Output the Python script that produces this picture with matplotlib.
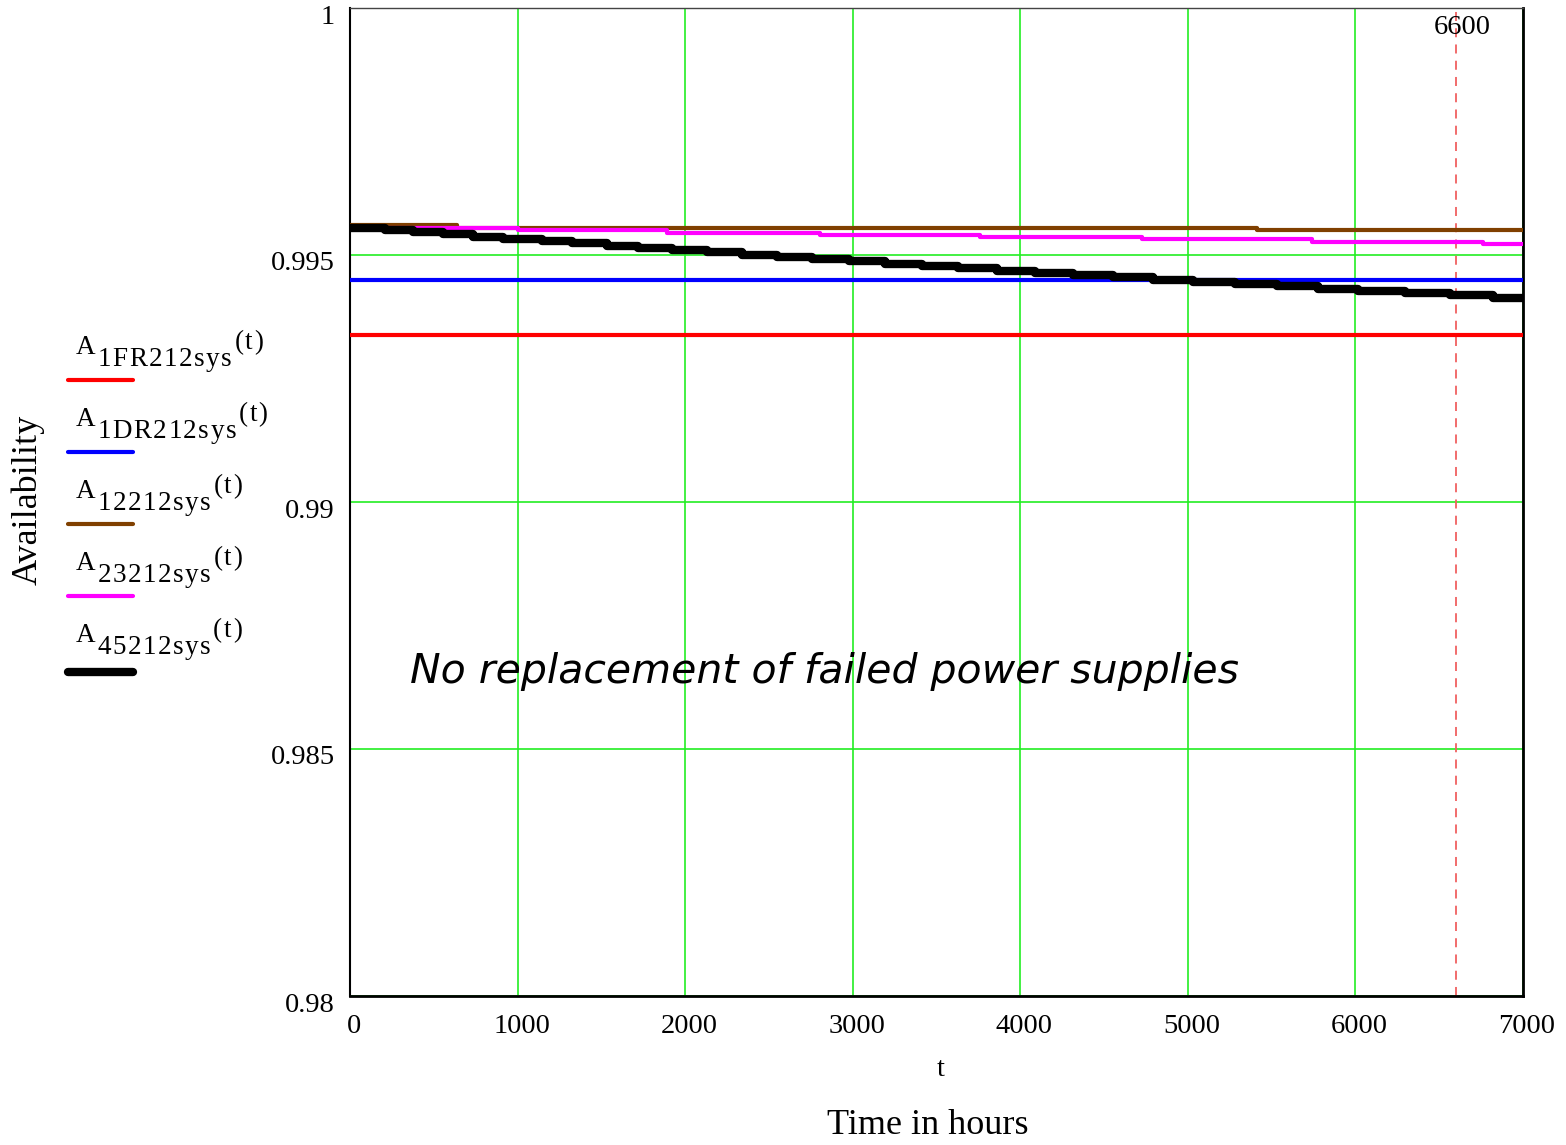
import matplotlib
matplotlib.use("Agg")
import matplotlib.pyplot as plt
from matplotlib.lines import Line2D
import matplotlib.transforms as mtransforms

W, H = 1566, 1145
SERIF = "Liberation Serif"

# ---- data ----
t_end = 7000
A_1FR = 0.99339
A_1DR = 0.99449
t_12212 = [0, 637, 5411]
A_12212 = [0.995609, 0.995538, 0.995496]
t_23212 = [0, 1000, 1890, 2805, 3760, 4725, 5739, 6763]
A_23212 = [0.995548, 0.995501, 0.995455, 0.995408, 0.995361, 0.995315, 0.995268, 0.995221]
t_45212 = [0, 209, 378, 557, 736, 915, 1144, 1323, 1532, 1721,
           1920, 2129, 2338, 2547, 2756, 2975, 3194, 3412,
           3631, 3860, 4088, 4317, 4556, 4794, 5033, 5282,
           5530, 5779, 6018, 6297, 6566, 6823]
A_45212 = [0.995556, 0.995510, 0.995464, 0.995419, 0.995373, 0.995327, 0.995281, 0.995235,
           0.995190, 0.995144, 0.995098, 0.995052, 0.995006, 0.994961, 0.994915, 0.994869,
           0.994823, 0.994777, 0.994732, 0.994686, 0.994640, 0.994594, 0.994548, 0.994503,
           0.994457, 0.994411, 0.994365, 0.994319, 0.994274, 0.994228, 0.994182, 0.994136]
marker_t = 6600
x_ticks = [0, 1000, 2000, 3000, 4000, 5000, 6000, 7000]
y_ticks = [0.98, 0.985, 0.99, 0.995, 1.0]
y_tick_labels = ["0.98", "0.985", "0.99", "0.995", "1"]
legend_subs = ["1FR212sys", "1DR212sys", "12212sys", "23212sys", "45212sys"]
colors = ["#ff0000", "#0000ff", "#804000", "#ff00ff", "#000000"]

fig = plt.figure(figsize=(W / 100, H / 100), dpi=100)
ax = fig.add_axes([350 / W, 1 - 996 / H, (1523 - 350) / W, (996 - 8) / H])

def ext(t, v):
    return list(t) + [t_end], list(v) + [v[-1]]

lw = 3.0
ax.plot([0, t_end], [A_1FR, A_1FR], color=colors[0], lw=lw, zorder=3)
ax.plot([0, t_end], [A_1DR, A_1DR], color=colors[1], lw=lw, zorder=3)
x, y = ext(t_12212, A_12212)
ax.plot(x, y, drawstyle="steps-post", color=colors[2], lw=lw, zorder=3)
x, y = ext(t_23212, A_23212)
ax.plot(x, y, drawstyle="steps-post", color=colors[3], lw=lw, zorder=3)
x, y = ext(t_45212, A_45212)
ax.plot(x, y, drawstyle="steps-post", color=colors[4], lw=6, zorder=4)

ax.axvline(marker_t, color="#f06060", lw=1.3, ls=(0, (5, 4)), zorder=2)

ax.set_xlim(0, t_end)
ax.set_ylim(0.98, 1.0)
ax.set_xticks(x_ticks)
ax.set_yticks(y_ticks)
ax.set_yticklabels(y_tick_labels)
ax.grid(True, color="#22ee22", lw=1.2, zorder=1)
ax.tick_params(length=0, labelsize=20.5)
ax.tick_params(axis="x", pad=13)
ax.tick_params(axis="y", pad=11)
dx = mtransforms.ScaledTranslation(4 / 100, 0, fig.dpi_scale_trans)
dy = mtransforms.ScaledTranslation(0, -6 / 100, fig.dpi_scale_trans)
for lab in ax.get_xticklabels():
    lab.set_fontfamily(SERIF)
    lab.set_transform(lab.get_transform() + dx)
for lab in ax.get_yticklabels():
    lab.set_fontfamily(SERIF)
    lab.set_transform(lab.get_transform() + dy)
for s in ["left", "bottom", "right", "top"]:
    ax.spines[s].set_color("black")
ax.spines["left"].set_linewidth(1.5)
ax.spines["bottom"].set_linewidth(2.0)
ax.spines["right"].set_linewidth(2.0)
ax.spines["top"].set_linewidth(1.0)
ax.spines["top"].set_color("#444444")

ax.text(358, 0.98657, "No replacement of failed power supplies", fontsize=29.5,
        style="italic", family="DejaVu Sans", va="center", ha="left", zorder=5)

def P(px, py):
    return px / W, 1 - py / H

fig.text(*P(1462, 27), "6600", fontsize=20.5, family=SERIF, ha="center", va="center")
fig.text(*P(941, 1070), "t", fontsize=20.5, family=SERIF, ha="center", va="center")
fig.text(*P(928, 1126), "Time in hours", fontsize=26, family=SERIF, ha="center", va="center")
fig.text(*P(28, 500), "Availability", fontsize=26, family=SERIF, ha="center", va="center",
         rotation=90)

# legend drawn manually
fig.canvas.draw()
r = fig.canvas.get_renderer()

def spaced(xp, yp, s, size, gap):
    for ch in s:
        t = fig.text(*P(xp, yp), ch, fontsize=size, family=SERIF, va="baseline", ha="left")
        xp += t.get_window_extent(r).width + gap
    return xp

for i, sub in enumerate(legend_subs):
    base = 354 + 72 * i
    xe = spaced(76, base, "A", 19.5, 1)
    xe = spaced(xe + 1, base + 12, sub, 19.5, 1.5)
    spaced(xe + 1, base - 5, "(t)", 19.5, 1.5)
    ly = 380 + 72 * i + (4 if i == 4 else 0)
    fig.add_artist(Line2D([68 / W, 133 / W], [1 - ly / H, 1 - ly / H],
                          transform=fig.transFigure, color=colors[i],
                          lw=6 if i == 4 else 3, solid_capstyle="round"))

fig.savefig("out.png", dpi=100)
